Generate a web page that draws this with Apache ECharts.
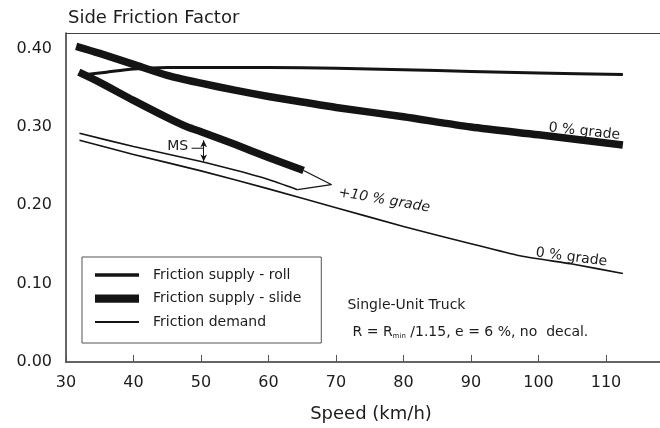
<!DOCTYPE html>
<html><head><meta charset="utf-8">
<script src="https://cdn.jsdelivr.net/npm/echarts@6/dist/echarts.min.js"></script>
<style>html,body{margin:0;padding:0;background:#fff}#c{width:660px;height:428px}</style>
</head><body><div id="c"></div>
<script>
// ---- data (speed km/h, side friction factor) ----
const speedTicks = [30, 40, 50, 60, 70, 80, 90, 100, 110];
const frictionTicks = ['0.00', '0.10', '0.20', '0.30', '0.40'];
const rollSpeed = [32.2, 36, 40, 45, 50, 60, 70, 80, 90, 100, 112.5];
const rollFriction = [0.366, 0.370, 0.374, 0.376, 0.376, 0.376, 0.375, 0.373, 0.371, 0.369, 0.367];
const slide0Speed = [31.5, 35, 40, 45, 50, 55, 60, 65, 70, 80, 90, 100, 112.5];
const slide0Friction = [0.403, 0.394, 0.380, 0.366, 0.356, 0.347, 0.339, 0.332, 0.325, 0.313, 0.300, 0.290, 0.277];
const slide10Speed = [31.9, 35, 40, 45, 48, 50, 55, 60, 65.2];
const slide10Friction = [0.370, 0.357, 0.334, 0.312, 0.300, 0.294, 0.278, 0.261, 0.2445];
const demand0Speed = [32, 40, 50, 60, 70, 80, 90, 97, 105, 112.5];
const demand0Friction = [0.283, 0.265, 0.244, 0.221, 0.197, 0.173, 0.151, 0.136, 0.125, 0.113];
const demand10Speed = [32, 40, 50, 55, 60, 64.3];
const demand10Friction = [0.292, 0.275, 0.256, 0.245, 0.233, 0.220];
const pointerSpeed = [65.2, 69.3, 64.3];
const pointerFriction = [0.2445, 0.2265, 0.220];
const msSpeed = 50.4;
const msFriction = [0.283, 0.256];

const zip = (xs, ys) => xs.map((x, i) => [x, ys[i]]);
const INK = '#141414';
const TXT = '#1c1c1c';
const FONT = 'DejaVu Sans';

const chart = echarts.init(document.getElementById('c'), null, {renderer: 'canvas'});

const lineSeries = (name, data, width, extra) => Object.assign({
  type: 'line', name, data, showSymbol: false, symbol: 'none', smooth: 0.25,
  lineStyle: {color: INK, width, cap: 'butt', join: 'round'}, itemStyle: {color: INK},
  animation: false, silent: true, z: 3
}, extra || {});

chart.setOption({
  animation: false,
  backgroundColor: '#fff',
  title: {
    text: 'Side Friction Factor', left: 63, top: 4,
    textStyle: {fontFamily: FONT, fontSize: 18, fontWeight: 'normal', color: TXT}
  },
  grid: {left: 66, right: 0, top: 33, bottom: 61, containLabel: false},
  legend: {
    orient: 'vertical', left: 82, top: 257,
    padding: [10, 20, 13, 13],
    borderColor: '#555', borderWidth: 1,
    itemWidth: 44, itemHeight: 16, itemGap: 7.5,
    symbolKeepAspect: true,
    itemStyle: {borderWidth: 0},
    textStyle: {fontFamily: FONT, fontSize: 14, color: TXT, lineHeight: 16, padding: [0, 0, 0, 9]},
    selectedMode: false,
    data: [
      {name: 'Friction supply - roll', icon: 'path://M0,0H40V3H0Z'},
      {name: 'Friction supply - slide', icon: 'path://M0,0H40V7.5H0Z'},
      {name: 'Friction demand', icon: 'path://M0,0H40V1.6H0Z'}
    ]
  },
  xAxis: [{
    type: 'value', min: 30, max: 118, interval: 10,
    name: 'Speed (km/h)', nameLocation: 'middle', nameGap: 43,
    nameTextStyle: {fontFamily: FONT, fontSize: 18, color: TXT, padding: [0, 0, 0, 16]},
    axisLine: {show: true, onZero: false, lineStyle: {color: '#333', width: 1.5}},
    axisTick: {show: true, inside: true, length: 7, lineStyle: {color: '#555', width: 1}},
    axisLabel: {
      fontFamily: FONT, fontSize: 16, color: TXT, margin: 13, showMaxLabel: false,
      formatter: v => speedTicks.includes(v) ? String(v) : ''
    },
    splitLine: {show: false}
  }, {
    type: 'value', min: 30, max: 118, position: 'top',
    axisLine: {show: true, onZero: false, lineStyle: {color: '#444', width: 1}},
    axisTick: {show: false}, axisLabel: {show: false}, splitLine: {show: false}
  }],
  yAxis: {
    type: 'value', min: 0, max: 0.42, interval: 0.1,
    axisLine: {show: true, lineStyle: {color: '#333', width: 1.5}},
    axisTick: {show: false},
    axisLabel: {
      fontFamily: FONT, fontSize: 16, color: TXT, margin: 14, showMaxLabel: false,
      formatter: v => { const i = Math.round(v * 10); return frictionTicks[i] || ''; }
    },
    splitLine: {show: false}
  },
  series: [
    lineSeries('Friction supply - roll', zip(rollSpeed, rollFriction), 3),
    lineSeries('Friction supply - slide', zip(slide0Speed, slide0Friction), 7.5),
    lineSeries('Friction supply - slide', zip(slide10Speed, slide10Friction), 7.5, {
      markLine: {
        silent: true, animation: false,
        symbol: ['arrow', 'arrow'], symbolSize: [5, 7],
        lineStyle: {color: INK, width: 1, type: 'solid'},
        label: {show: false},
        data: [[{coord: [msSpeed, msFriction[0]]}, {coord: [msSpeed, msFriction[1]]}]]
      }
    }),
    lineSeries('Friction demand', zip(demand0Speed, demand0Friction), 1.6, {smooth: 0.15}),
    lineSeries('Friction demand', zip(demand10Speed, demand10Friction), 1.6, {smooth: 0.15}),
    lineSeries('pointer', zip(pointerSpeed, pointerFriction), 1.2, {smooth: false})
  ]
});

// ---- annotations placed in data coordinates ----
const px = (x, y) => chart.convertToPixel({gridIndex: 0}, [x, y]);
const deg = d => d * Math.PI / 180;
const note = (x, y, text, rotDeg, extra) => {
  const p = px(x, y);
  return {
    type: 'text', x: p[0], y: p[1], rotation: deg(rotDeg || 0), silent: true, z: 10,
    style: Object.assign({text, fontFamily: FONT, fontSize: 14, fill: TXT,
      align: 'left', verticalAlign: 'middle'}, extra || {})
  };
};
const h0 = px(48.6, 0.2729), h1 = px(msSpeed, 0.2729);
chart.setOption({
  graphic: [
    note(101.5, 0.2993, '0 % grade', -6.3),
    note(99.6, 0.1396, '0 % grade', -7.4),
    note(70.4, 0.2163, '+10 % grade', -9.6, {fontStyle: 'italic'}),
    note(45.0, 0.2754, 'MS', 0),
    {type: 'line', silent: true, z: 10,
     shape: {x1: h0[0], y1: h0[1], x2: h1[0], y2: h1[1]},
     style: {stroke: INK, lineWidth: 1}},
    note(71.7, 0.0717, 'Single-Unit Truck', 0),
    note(72.45, 0.0377, 'R = R{s|min} /1.15, e = 6 %, no  decal.', 0, {
      rich: {s: {fontFamily: FONT, fontSize: 7, fill: TXT, verticalAlign: 'bottom', padding: [6, 0, 0, 0]}}
    })
  ]
});
</script>
</body></html>
